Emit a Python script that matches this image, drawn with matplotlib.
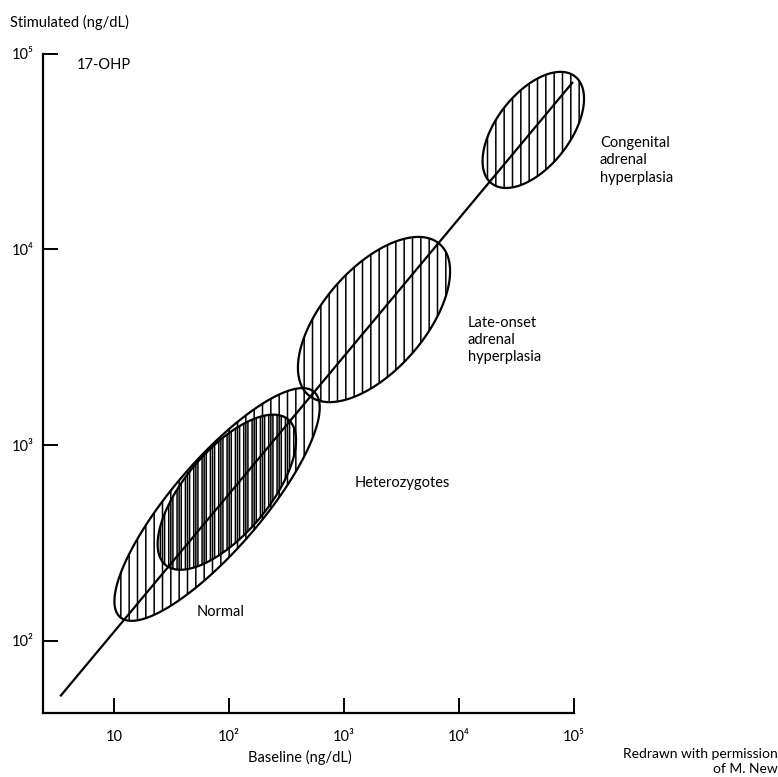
import numpy as np
import matplotlib as mpl
mpl.use('Agg')
import matplotlib.pyplot as plt
from matplotlib.ticker import NullLocator

mpl.rcParams['font.family'] = ['Lato', 'DejaVu Sans']
mpl.rcParams['font.size'] = 10.5
mpl.rcParams['hatch.linewidth'] = 1.1

# axis ticks
x_ticks = [10, 1e2, 1e3, 1e4, 1e5]
x_ticklabels = ['10', '10²', '10³', '10⁴', '10⁵']
y_ticks = [1e2, 1e3, 1e4, 1e5]
y_ticklabels = ['10²', '10³', '10⁴', '10⁵']

# diagonal line (baseline, stimulated)
line_base = [3.4, 98000]
line_stim = [52, 71600]

# ellipses: ends of the long axis, width/length ratio
ell_base_lo = [11.3, 28, 490, 19200]
ell_base_hi = [548, 327, 6780, 102000]
ell_stim_lo = [132, 244, 1800, 21700]
ell_stim_hi = [1870, 1350, 10640, 76400]
ell_ratio = [0.30, 0.44, 0.51, 0.54]
ell_hatch = ['||', '||||', '||', '||']

# group labels
grp_labels = ['Normal', 'Heterozygotes', 'Late-onset\nadrenal\nhyperplasia',
              'Congenital\nadrenal\nhyperplasia']
grp_x = [52.7, 1248, 11970, 168000]
grp_y = [140, 640, 3440, 28500]


def ellipse_pts(ax, x0, y0, x1, y1, ratio, n=300):
    # build the ellipse in display space, then go back to data
    p0 = ax.transData.transform((x0, y0))
    p1 = ax.transData.transform((x1, y1))
    c = (p0 + p1) / 2
    u = (p1 - p0) / 2
    v = np.array([-u[1], u[0]]) * ratio
    t = np.linspace(0, 2 * np.pi, n)
    pts = c + np.outer(np.cos(t), u) + np.outer(np.sin(t), v)
    return ax.transData.inverted().transform(pts)


fig = plt.figure(figsize=(7.78, 7.77), dpi=100)
ax = fig.add_axes([0.0557, 0.0824, 0.6821, 0.8487])

ax.set_xscale('log')
ax.set_yscale('log')
ax.set_xlim(10 ** 0.385, 1e5)
ax.set_ylim(10 ** 1.631, 1e5)

for i in range(len(ell_ratio)):
    pts = ellipse_pts(ax, ell_base_lo[i], ell_stim_lo[i],
                      ell_base_hi[i], ell_stim_hi[i], ell_ratio[i])
    ax.fill(pts[:, 0], pts[:, 1], facecolor='none', edgecolor='black',
            hatch=ell_hatch[i], linewidth=1.6, clip_on=False)

ax.plot(line_base, line_stim, color='black', linewidth=1.6,
        solid_capstyle='butt', clip_on=False)

for lab, x, y in zip(grp_labels, grp_x, grp_y):
    ax.text(x, y, lab, ha='left', va='center', linespacing=1.3)

ax.text(4.76, 87500, '17-OHP', ha='left', va='center')

ax.set_xticks(x_ticks)
ax.set_xticklabels(x_ticklabels)
ax.set_yticks(y_ticks)
ax.set_yticklabels(y_ticklabels)
ax.xaxis.set_minor_locator(NullLocator())
ax.yaxis.set_minor_locator(NullLocator())
ax.tick_params(direction='in', length=11, width=1.4)
ax.tick_params(axis='x', pad=12)
ax.tick_params(axis='y', pad=7)

for s in ['top', 'right']:
    ax.spines[s].set_visible(False)
for s in ['left', 'bottom']:
    ax.spines[s].set_linewidth(1.6)

fig.text(10 / 778, 1 - 22 / 777, 'Stimulated (ng/dL)', ha='left', va='center')
fig.text(300 / 778, 1 - 757 / 777, 'Baseline (ng/dL)', ha='center', va='center')
fig.text(1.0, 1 - 754 / 777, 'Redrawn with permission', ha='right', va='center',
         fontsize=10)
fig.text(1.0, 1 - 769 / 777, 'of M. New', ha='right', va='center', fontsize=10)

fig.savefig('out.png', dpi=100)
